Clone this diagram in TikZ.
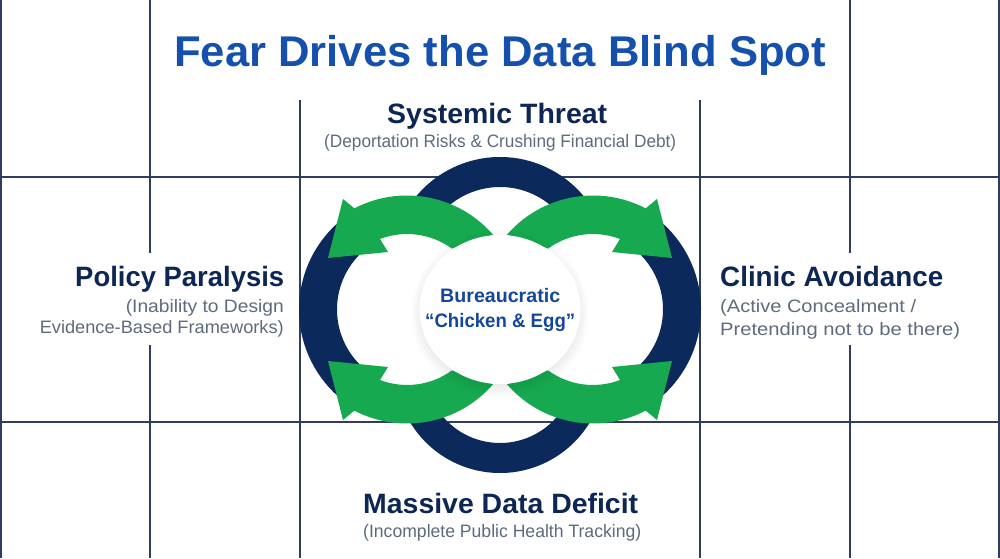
\documentclass[tikz,border=0pt]{standalone}
\usepackage{fontspec}
\usepackage{graphicx}
\usetikzlibrary{shapes.geometric}
\setmainfont{Liberation Sans}
\definecolor{navy}{HTML}{0B2A5B}
\definecolor{headnavy}{HTML}{0D2654}
\definecolor{greenarc}{HTML}{17A94F}
\definecolor{titleblue}{HTML}{1450AC}
\definecolor{centerblue}{HTML}{14479A}
\definecolor{subgrey}{HTML}{5F6B7C}
\definecolor{gridline}{HTML}{2F3D5E}
% text set to a measured width, its height kept
\newcommand{\tw}[2]{\resizebox{#1pt}{\height}{#2}}
\newcommand{\greenarrow}{%
  \fill[greenarc] (407,248.5) ++(41:114) arc[start angle=41,end angle=117.5,radius=114]
    -- (343,359) -- (328,300) -- (388,306) -- (380,319)
    arc[start angle=110.8,end angle=54,radius=76.3] -- cycle;}
\tikzset{
  x=1pt,y=1pt,
  gridrule/.style={draw=gridline,line width=1.5pt},
  ringarc/.style={draw=navy,line cap=butt},
  heading/.style={text=headnavy,font=\fontsize{28}{30}\selectfont\bfseries,inner sep=0pt},
  subtext/.style={text=subgrey,font=\fontsize{18}{20}\selectfont,inner sep=0pt},
  centertext/.style={text=centerblue,font=\fontsize{19.5}{22}\selectfont\bfseries,inner sep=0pt},
}
\begin{document}
\begin{tikzpicture}
\useasboundingbox (0,0) rectangle (1000,558);
\fill[white] (0,0) rectangle (1000,558);
% grid
\draw[gridrule] (1,0) -- (1,558);
\draw[gridrule] (999,0) -- (999,558);
\draw[gridrule] (150,558) -- (150,305);
\draw[gridrule] (150,213) -- (150,0);
\draw[gridrule] (850,558) -- (850,305);
\draw[gridrule] (850,213) -- (850,0);
\draw[gridrule] (300,458) -- (300,0);
\draw[gridrule] (700,458) -- (700,0);
\draw[gridrule] (0,381) -- (1000,381);
\draw[gridrule] (0,136) -- (1000,136);
% navy rings
\draw[ringarc,line width=38pt] (415,248.5) ++(125:97) arc[start angle=125,end angle=235,radius=97];
\draw[ringarc,line width=38pt] (585,248.5) ++(55:97) arc[start angle=55,end angle=-55,radius=97];
\draw[ringarc,line width=30pt] (500,292) ++(150:94) arc[start angle=150,end angle=30,radius=94];
\draw[ringarc,line width=30pt] (500,190) ++(210:90) arc[start angle=210,end angle=330,radius=90];
% green arrows
\greenarrow
\begin{scope}[xshift=1000pt,xscale=-1]\greenarrow\end{scope}
\begin{scope}[yshift=497pt,yscale=-1]\greenarrow\end{scope}
\begin{scope}[xshift=1000pt,yshift=497pt,xscale=-1,yscale=-1]\greenarrow\end{scope}
% centre disc with soft shadow
\foreach \g in {10,8,...,0}{
  \fill[black,opacity=0.012] (500,244.5) ellipse[x radius=79+\g,y radius=73.5+\g];
}
\node[fill=white,ellipse,inner sep=0pt,minimum width=161pt,minimum height=149pt] (disc) at (500,248.5) {};
% texts
\node[anchor=base west,inner sep=0pt,text=titleblue,font=\fontsize{43}{46}\selectfont\bfseries] (title) at (174,491) {\tw{652}{Fear Drives the Data Blind Spot}};
\node[heading,anchor=base west] (top) at (387,434) {\tw{220}{Systemic Threat}};
\node[subtext,anchor=base west] (topsub) at (324,410) {\tw{352}{(Deportation Risks \& Crushing Financial Debt)}};
\node[heading,anchor=base west] (left) at (75,272) {\tw{209}{Policy Paralysis}};
\node[subtext,anchor=base east] (leftsuba) at (284,246) {\tw{158}{(Inability to Design}};
\node[subtext,anchor=base east] (leftsubb) at (284,225) {\tw{244}{Evidence-Based Frameworks)}};
\node[heading,anchor=base west] (right) at (720,272) {\tw{223}{Clinic Avoidance}};
\node[subtext,anchor=base west] (rightsuba) at (720,246) {\tw{196}{(Active Concealment /}};
\node[subtext,anchor=base west] (rightsubb) at (720,223) {\tw{240}{Pretending not to be there)}};
\node[heading,anchor=base west] (bottom) at (363,45) {\tw{275}{Massive Data Deficit}};
\node[subtext,anchor=base west] (bottomsub) at (363,21) {\tw{278}{(Incomplete Public Health Tracking)}};
\node[centertext,anchor=base west] (centera) at (440,256) {\tw{120}{Bureaucratic}};
\node[centertext,anchor=base west] (centerb) at (425,231) {\tw{150}{“Chicken \& Egg”}};
\end{tikzpicture}
\end{document}
